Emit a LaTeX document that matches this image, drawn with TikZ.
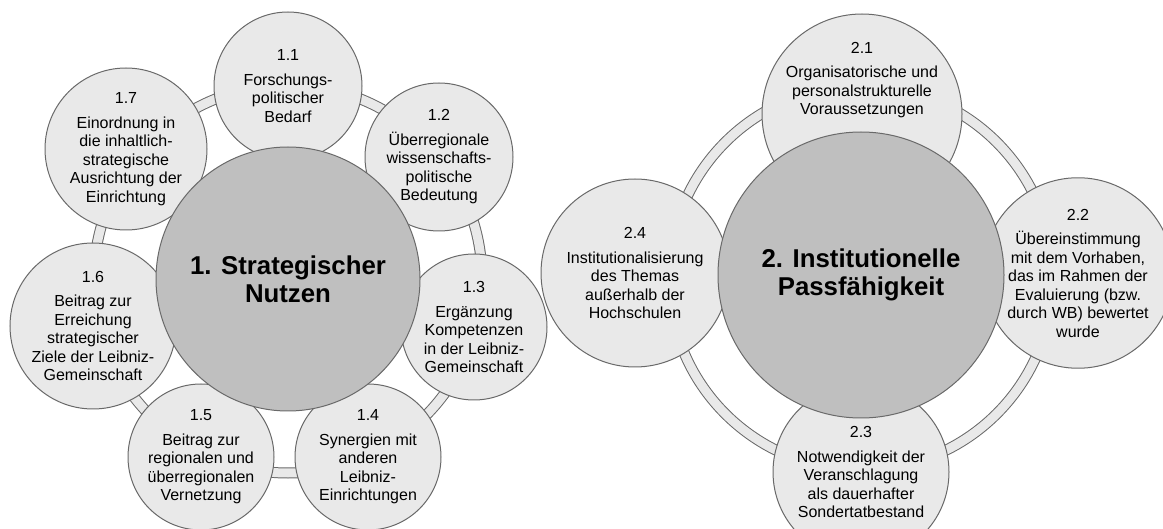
\documentclass[tikz,border=0pt]{standalone}
\usepackage{fontspec}
\setmainfont{Liberation Sans}
\usepackage{tikz}
\usetikzlibrary{positioning}
\definecolor{satfill}{RGB}{233,233,233}
\definecolor{corefill}{RGB}{191,191,191}
\definecolor{rimline}{RGB}{105,105,105}

\begin{document}
\begin{tikzpicture}[x=0.5pt, y=-0.5pt]
  % Styles for both radial cycles
  \tikzset{
    satellite/.style={
      circle,
      draw=rimline,
      fill=satfill,
      line width=0.5pt,
      inner sep=0pt,
      align=center,
      font=\fontsize{8}{9.25}\selectfont
    },
    hub/.style={
      circle,
      draw=rimline,
      fill=corefill,
      line width=0.5pt,
      inner sep=0pt,
      align=center,
      font=\fontsize{12.9}{14}\selectfont\bfseries
    },
    satlabel/.style={
      inner sep=0pt,
      align=center,
      font=\fontsize{8}{9.25}\selectfont
    },
    rimouter/.style={draw=rimline, line width=5.5pt},
    riminner/.style={draw=satfill, line width=4.5pt}
  }
  \useasboundingbox (0,0) rectangle (1163,529);

  % Ring centres
  \coordinate (c1) at (288,279);
  \coordinate (c2) at (861,278);

  % Rings behind the circles
  \draw[rimouter] (c1) circle[radius=97pt];
  \draw[riminner] (c1) circle[radius=97pt];
  \draw[rimouter] (c2) circle[radius=96pt];
  \draw[riminner] (c2) circle[radius=96pt];

  % Left cycle: strategischer Nutzen
  \node[satellite, minimum size=74pt] (s11) at (288,86) {1.1\\[3pt]Forschungs-\\politischer\\Bedarf};
  \node[satellite, minimum size=74pt] (s12) at (439,157) {1.2\\[3pt]Überregionale\\wissenschafts-\\politische\\Bedeutung};
  \node[satellite, minimum size=73pt] (s13) at (474,327) {1.3\\[3pt]Ergänzung\\Kompetenzen\\in der Leibniz-\\Gemeinschaft};
  \node[satellite, minimum size=73pt] (s14) at (368,457) {1.4\\[3pt]Synergien mit\\anderen\\Leibniz-\\Einrichtungen};
  \node[satellite, minimum size=73pt] (s15) at (201,457) {1.5\\[3pt]Beitrag zur\\regionalen und\\überregionalen\\Vernetzung};
  \node[satellite, minimum size=83pt] (s16) at (93,326) {1.6\\[3pt]Beitrag zur\\Erreichung\\strategischer\\Ziele der Leibniz-\\Gemeinschaft};
  \node[satellite, minimum size=81pt] (s17) at (126,149) {1.7\\[3pt]Einordnung in\\die inhaltlich-\\strategische\\Ausrichtung der\\Einrichtung};
  \node[hub, minimum size=132pt] (core1) at (c1) {1. Strategischer\\Nutzen};

  % Right cycle: institutionelle Passfaehigkeit
  \node[satellite, minimum size=100pt] (s21) at (862,114) {};
  \node[satlabel] (t21) at ([yshift=17pt]s21.center) {2.1\\[3pt]Organisatorische und\\personalstrukturelle\\Voraussetzungen};
  \node[satellite, minimum size=84pt] (s22) at (1078,273) {2.2\\[3pt]Übereinstimmung\\mit dem Vorhaben,\\das im Rahmen der\\Evaluierung (bzw.\\durch WB) bewertet\\wurde};
  \node[satellite, minimum size=88pt] (s23) at (861,472) {2.3\\[3pt]Notwendigkeit der\\Veranschlagung\\als dauerhafter\\Sondertatbestand};
  \node[satellite, minimum size=94pt] (s24) at (635,273) {2.4\\[3pt]Institutionalisierung\\des Themas\\außerhalb der\\Hochschulen};
  \node[hub, minimum size=143pt] (core2) at (861,275) {2. Institutionelle\\Passfähigkeit};
\end{tikzpicture}
\end{document}
